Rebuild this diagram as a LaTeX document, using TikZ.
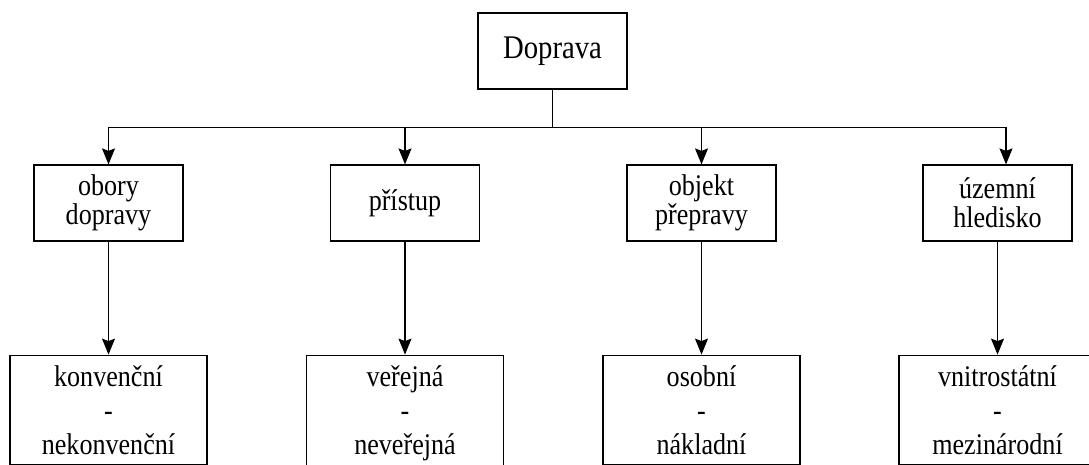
\documentclass[tikz,border=0pt]{standalone}
\usepackage{fontspec}
\setmainfont{Liberation Serif}[FakeStretch=0.87]
\usetikzlibrary{arrows.meta,positioning,calc}

\tikzset{
  topbox/.style={draw, line width=1.2pt, minimum width=149pt, minimum height=76pt,
                 inner sep=2pt, align=center, font=\fontsize{30}{29}\selectfont},
  lowbox/.style={draw, line width=1.2pt, minimum width=197pt, inner xsep=2pt,
                 inner ysep=10pt, align=center, font=\fontsize{30}{29}\selectfont},
  arr/.style={-{Stealth[length=16pt,width=13pt,inset=2.5pt]}, line width=1.2pt}
}

\begin{document}
\begin{tikzpicture}[x=1pt, y=-1pt]
  \useasboundingbox (0,0) rectangle (1089,464);
  \clip (0,0) rectangle (1089,464);

  % root and the four criteria
  \node[topbox, font=\fontsize{33}{36}\selectfont] (root) at (552.5,51) {Doprava};
  \node[topbox] (c1) at (108.5,203) {obory\\dopravy};
  \node[topbox] (c2) at (405,203)   {přístup};
  \node[topbox] (c3) at (701.5,203) {objekt\\přepravy};
  \node[topbox] (c4) at (997.5,203) {územní\\hledisko};

  % kinds of transport
  \node[lowbox, below=113pt of c1] (d1) {konvenční\\[5pt]-\\[5pt]nekonvenční};
  \node[lowbox, below=113pt of c2] (d2) {veřejná\\[5pt]-\\[5pt]neveřejná};
  \node[lowbox, below=113pt of c3] (d3) {osobní\\[5pt]-\\[5pt]nákladní};
  \node[lowbox, below=113pt of c4] (d4) {vnitrostátní\\[5pt]-\\[5pt]mezinárodní};

  \coordinate (split) at ($(root.south)+(0,38)$);
  \draw[line width=1.2pt] (root.south) -- (split);
  \draw[arr] (split) -| (c1.north);
  \draw[arr] (split) -| (c2.north);
  \draw[arr] (split) -| (c3.north);
  \draw[arr] (split) -| ([xshift=8.5pt]c4.north);

  \draw[arr] (c1) -- (d1);
  \draw[arr] (c2) -- (d2);
  \draw[arr] (c3) -- (d3);
  \draw[arr] (c4) -- (d4);
\end{tikzpicture}
\end{document}
